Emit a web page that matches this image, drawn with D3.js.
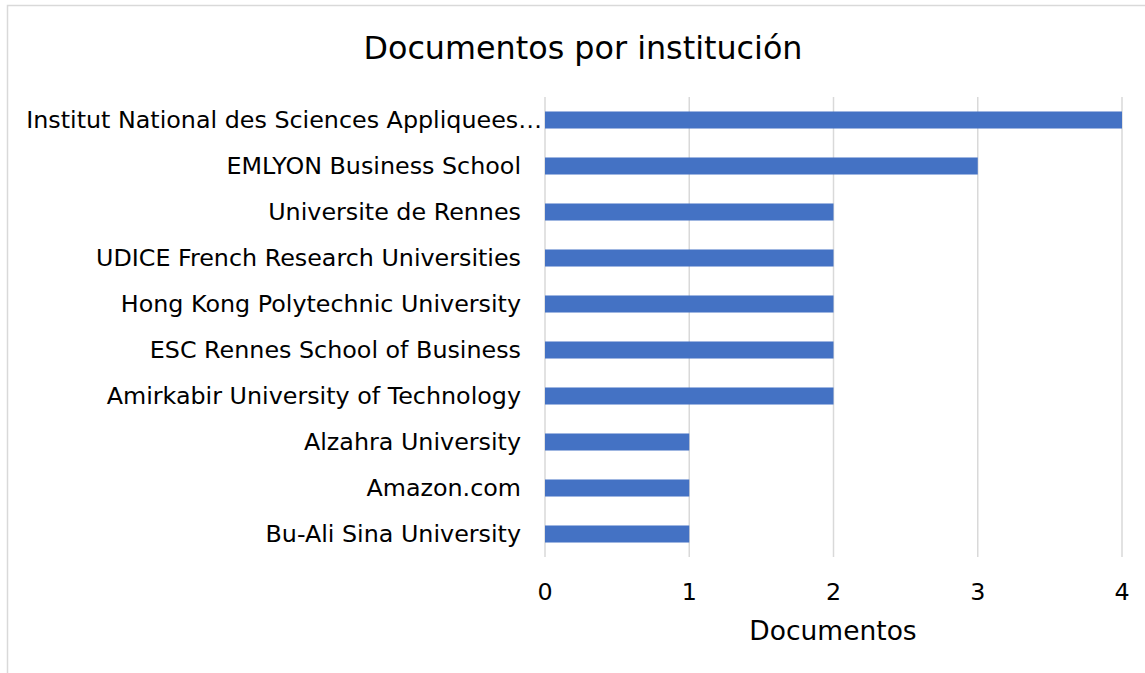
<!DOCTYPE html>
<html><head><meta charset="utf-8">
<script src="https://cdn.jsdelivr.net/npm/d3@7"></script>
<style>body{margin:0;background:#fff}svg{display:block}</style>
</head><body>
<script>
const categories = [
  "Institut National des Sciences Appliquees…",
  "EMLYON Business School",
  "Universite de Rennes",
  "UDICE French Research Universities",
  "Hong Kong Polytechnic University",
  "ESC Rennes School of Business",
  "Amirkabir University of Technology",
  "Alzahra University",
  "Amazon.com",
  "Bu-Ali Sina University"
];
const values = [4, 3, 2, 2, 2, 2, 2, 1, 1, 1];
const xTicks = [0, 1, 2, 3, 4];
const title = "Documentos por institución";
const xTitle = "Documentos";

const W = 1145, H = 673;
const font = "'DejaVu Sans', Verdana, sans-serif";
const svg = d3.select("body").append("svg").attr("width", W).attr("height", H);

svg.append("rect").attr("x", 7.5).attr("y", 5.5).attr("width", W).attr("height", H + 20)
  .attr("fill", "none").attr("stroke", "#d9d9d9").attr("stroke-width", 1.5);

const x = d3.scaleLinear().domain([0, 4]).range([545, 1122]);
const y = d3.scaleBand().domain(categories).range([97, 557]).paddingInner(0.63).paddingOuter(0.315);

// gridlines
svg.append("g").selectAll("line").data(xTicks).join("line")
  .attr("x1", d => x(d)).attr("x2", d => x(d)).attr("y1", 97).attr("y2", 557)
  .attr("stroke", "#d9d9d9").attr("stroke-width", 1.5);

// bars
svg.append("g").selectAll("rect").data(values).join("rect")
  .attr("x", x(0)).attr("y", (d, i) => y(categories[i]))
  .attr("width", d => x(d) - x(0)).attr("height", y.bandwidth())
  .attr("fill", "#4472C4");

// y labels (truncated label with ellipsis sits closer to the axis, as in the original)
svg.append("g").selectAll("text").data(categories).join("text")
  .attr("x", d => d.endsWith("…") ? 542 : 521).attr("y", d => y(d) + y.bandwidth() / 2)
  .attr("text-anchor", "end").attr("dominant-baseline", "central")
  .attr("font-family", font).attr("font-size", 23.8).attr("fill", "#000")
  .text(d => d);

// x tick labels
svg.append("g").selectAll("text").data(xTicks).join("text")
  .attr("x", d => x(d)).attr("y", 592)
  .attr("text-anchor", "middle").attr("dominant-baseline", "central")
  .attr("font-family", font).attr("font-size", 23.8).attr("fill", "#000")
  .text(d => d);

svg.append("text").attr("x", 833).attr("y", 630)
  .attr("text-anchor", "middle").attr("dominant-baseline", "central")
  .attr("font-family", font).attr("font-size", 26.5).attr("fill", "#000")
  .text(xTitle);

svg.append("text").attr("x", 583).attr("y", 47)
  .attr("text-anchor", "middle").attr("dominant-baseline", "central")
  .attr("font-family", font).attr("font-size", 31.8).attr("fill", "#000")
  .text(title);
</script>
</body></html>
